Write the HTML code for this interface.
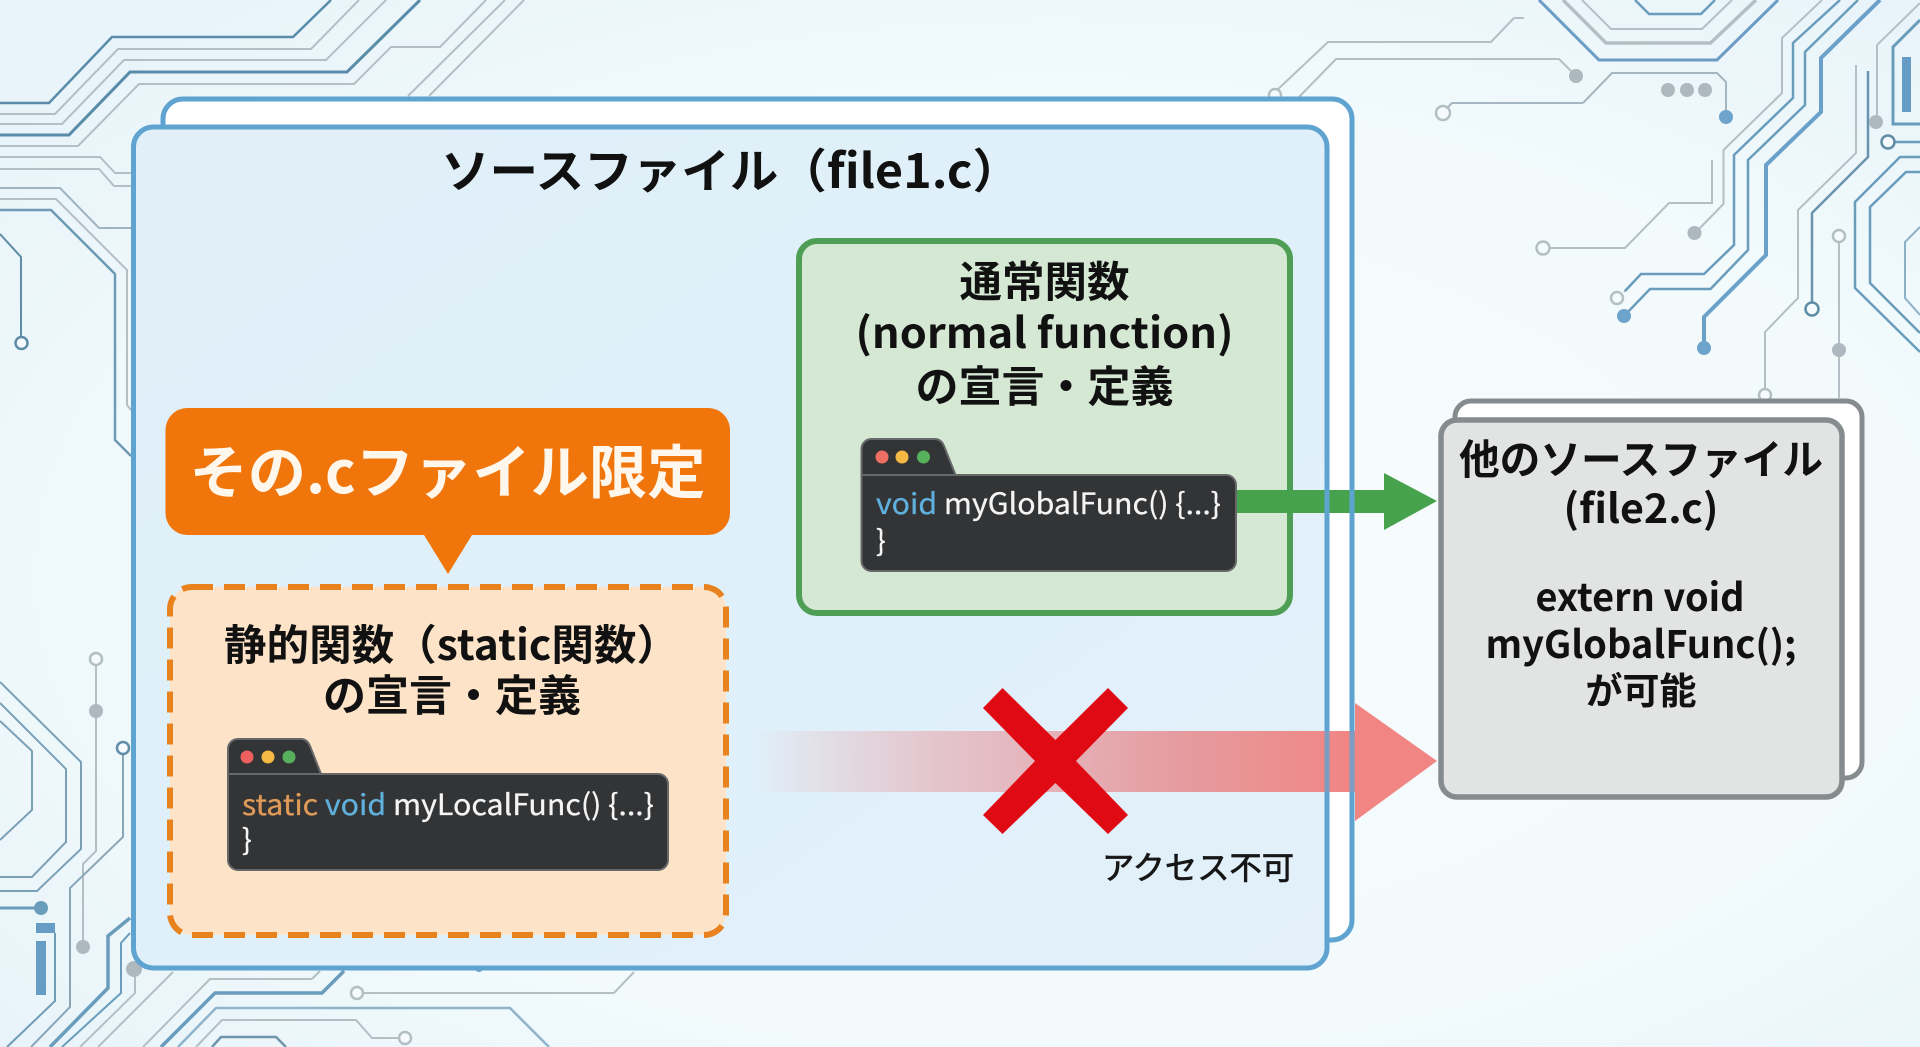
<!DOCTYPE html>
<html lang="ja"><head><meta charset="utf-8"><title>static関数</title>
<style>
html,body{margin:0;padding:0;width:1920px;height:1047px;overflow:hidden;background:#f2fafd}
svg{display:block}
text{font-family:"Noto Sans CJK JP","Liberation Sans",sans-serif}
.b{font-weight:700;fill:#111}
.c{font-size:29px;fill:#f4f4f4;stroke:#f4f4f4;stroke-width:.3px}
</style></head><body>
<svg xmlns="http://www.w3.org/2000/svg" width="1920" height="1047" viewBox="0 0 1920 1047">
<defs>
<radialGradient id="bg" cx="55%" cy="55%" r="75%"><stop offset="0" stop-color="#f9fdfe"/><stop offset=".6" stop-color="#f2fafc"/><stop offset="1" stop-color="#e6f3f9"/></radialGradient>
<linearGradient id="red" x1="755" x2="1355" y1="0" y2="0" gradientUnits="userSpaceOnUse"><stop offset="0" stop-color="#e8a0a4" stop-opacity="0"/><stop offset=".3" stop-color="#e6a8ae" stop-opacity=".6"/><stop offset=".7" stop-color="#e59ca0"/><stop offset="1" stop-color="#f08583"/></linearGradient>
<linearGradient id="fr" x1="0" y1="0" x2="1" y2="1"><stop offset="0" stop-color="#e1eff8"/><stop offset=".5" stop-color="#dff0fa"/><stop offset="1" stop-color="#e3f0f9"/></linearGradient>
</defs>
<rect width="1920" height="1047" fill="url(#bg)"/>
<!-- grey traces -->
<g fill="none" stroke="#b3bfc5" stroke-width="2">
<path d="M0 114H55L118 49H311L359 0"/><path d="M0 124H62L124 60H326L386 0"/>
<path d="M0 146H78L139 84H354L391 47H440L486 0"/><path d="M408 96L505 0M429 96L524 0"/>
<path d="M0 157H100L115 173H131M0 169H99L114 186H131"/>
<path d="M0 199H56L127 270V405L131 410"/>
<path d="M96 665V851L83 864V947"/><path d="M135 975V993L80 1047"/><path d="M173 972L98 1047"/>
<path d="M312 979H210L143 1047M312 979L320 971"/>
<path d="M363 993H614L634 972"/>
<path d="M196 1047L222 1020H356L372 1038H400"/>
<path d="M1514 18H1524M1514 18L1491 42H1328L1275 92"/>
<path d="M1576 76L1559 59H1336L1299 97"/>
<path d="M1583 103H1452L1447 108M1583 103L1612 73H1717L1726 82V110" stroke="#a5b6c0"/>
<path d="M1582 0L1611 29H1702L1732 0"/>
<path d="M1822 0L1782 38V93L1723.5 150V204L1698 230"/>
<path d="M1712 160V203H1669L1625 248H1549"/>
<path d="M1856 65V153L1798 210V298L1765 332V390"/>
<path d="M1839 242V398"/>
<path d="M1920 3L1877 45V117"/>
<path d="M1563 0L1606 43H1710.5L1756 0" stroke-width="3.5"/>
<path d="M1624 292L1641 274"/>
</g>
<!-- blue traces -->
<g fill="none" stroke="#6a9dbc" stroke-width="2.5">
<path d="M0 103H49L112 37H293L331 0" stroke="#5a8caa"/>
<path d="M0 135H69L130 72H347L420 0" stroke="#5a8caa" stroke-width="3"/>
<path d="M0 188H60L99 228H131" stroke="#9fb4c0" stroke-width="2"/>
<path d="M0 210H51L115 274V440L131 456" stroke="#6e9ab5"/>
<path d="M0 234L21 257V337" stroke="#5f8ca6" stroke-width="2"/>
<path d="M0 682L81 762V849L37 891H0M0 703L66 769V842L32 877H0" stroke="#7ba0b6" stroke-width="2"/>
<path d="M0 721L32 751V810L0 840" stroke="#7ba0b6" stroke-width="2"/>
<path d="M123 754V837L70 888V1007L31 1047" stroke="#8aa6b6" stroke-width="2"/>
<path d="M0 908H38" stroke="#6a9dbc" stroke-width="3"/>
<path d="M55 933V1001L7 1047" stroke="#6f9cb6" stroke-width="2"/>
<path d="M130 918L108 936V988L50 1047" stroke-width="3.5"/>
<path d="M130 933L121 943V993L62 1047" stroke-width="2"/>
<path d="M344 971L322 993H215L161 1047" stroke-width="3.5"/>
<path d="M178 1047L216 1008H510L549 1047" stroke="#8fb4cb"/>
<path d="M212 1047L221 1037H276L286 1047" stroke="#6f95ac"/>
<path d="M1539 0L1599 60H1717L1778 0" stroke="#6c9cc4" stroke-width="3"/>
<path d="M1635 0L1649 14H1701L1715 0"/>
<path d="M1840 0L1793 43V98L1734 155V245L1704 274H1641L1625 291"/>
<path d="M1858 0L1805 52V105L1748 160V250L1710.5 289H1650L1624 316"/>
<path d="M1880 0L1821 58V112L1766 165V255L1704 317V347" stroke="#6ba1c9" stroke-width="4"/>
<path d="M1868 71V157L1812 213V303" stroke="#6a93ae"/>
<path d="M1920 20L1893 47V124H1920" stroke-width="3"/>
<path d="M1894 142H1920"/>
<path d="M1920 157H1900L1855 202V288L1920 352M1920 172H1906L1870 207V283L1920 333"/>
<path d="M1920 227L1905 242V298L1920 315" stroke="#8cb0c6" stroke-width="2"/>
</g>
<!-- rects on traces -->
<rect x="1902" y="57" width="9" height="55" fill="#659dc6"/>
<rect x="36" y="923" width="19" height="10" fill="#659dc6"/>
<rect x="36" y="941" width="10" height="54" fill="#659dc6"/>
<!-- dots -->
<g fill="#aeb8bf">
<circle cx="1576" cy="76" r="7"/><circle cx="1668" cy="90" r="7"/><circle cx="1687" cy="90" r="7"/><circle cx="1705" cy="90" r="7"/>
<circle cx="1694.5" cy="233" r="7"/><circle cx="1839" cy="350" r="7"/><circle cx="1876" cy="122" r="7"/>
<circle cx="96" cy="711" r="7"/><circle cx="83" cy="947" r="7"/><circle cx="134" cy="969" r="8"/>
</g>
<g fill="#6ea3cb"><circle cx="1726" cy="117" r="7"/><circle cx="1624" cy="316" r="7"/><circle cx="1704" cy="348" r="7"/><circle cx="41" cy="908" r="7" fill="#6a9dbc"/><circle cx="479" cy="968" r="4"/></g>
<!-- rings -->
<g fill="#f4fafd" stroke="#b3bfc5" stroke-width="2.5">
<circle cx="1275" cy="95" r="6"/><circle cx="1443" cy="113" r="7"/><circle cx="1543" cy="248" r="6.5"/><circle cx="1617" cy="298" r="6"/>
<circle cx="1839" cy="236" r="6"/><circle cx="1765" cy="395" r="6"/>
<circle cx="96" cy="659" r="6"/><circle cx="357" cy="993" r="6"/><circle cx="405" cy="1038" r="6"/>
</g>
<g fill="#f4fafd" stroke="#5f8ca6" stroke-width="2.5">
<circle cx="21.5" cy="343" r="6"/><circle cx="123" cy="748" r="6"/><circle cx="1812" cy="309" r="6.5"/><circle cx="1888" cy="142" r="6.5"/>
</g>
<!-- main file boxes -->
<rect x="163" y="99" width="1189" height="841" rx="20" fill="#fff" stroke="#5fa3d1" stroke-width="5"/>
<rect x="133.500" y="127" width="1193.500" height="841" rx="20" fill="url(#fr)" stroke="#5fa3d1" stroke-width="5"/>
<!-- right boxes -->
<rect x="1455" y="401" width="407" height="377" rx="16" fill="#fff" stroke="#868b8d" stroke-width="5"/>
<rect x="1441" y="420" width="401" height="377" rx="16" fill="#e2e3e3" stroke="#868b8d" stroke-width="5.500"/>
<!-- green box -->
<rect x="799" y="241" width="491" height="372" rx="18" fill="#d5e8d3" stroke="#4f9e55" stroke-width="6"/>
<!-- green arrow -->
<path d="M1230 490H1384V473L1437 501L1384 530V513H1230Z" fill="#46a24d"/>
<!-- red arrow -->
<rect x="755" y="731" width="600" height="61" fill="url(#red)"/>
<path d="M1355 703L1437 761L1355 821Z" fill="#f08583"/>
<!-- blue lines over arrows -->
<path d="M1327 480V521M1352 480V521" stroke="#5fa3d1" stroke-width="5"/>
<path d="M1327 725V800M1352 725V800" stroke="#5fa3d1" stroke-width="5" opacity=".8"/>
<!-- X -->
<path d="M1002.5 688L1055.400 740L1108 688L1128 708L1076 761L1128 815L1108 834L1055.400 783L1002.500 834L983 815L1035 761L983 708Z" fill="#e00a14"/>
<!-- callout -->
<path d="M187.500 408H708a22 22 0 0 1 22 22V513a22 22 0 0 1-22 22H472L448 574L424 535H187.500a22 22 0 0 1-22-22V430a22 22 0 0 1 22-22Z" fill="#f0760c"/>
<!-- static box -->
<rect x="170" y="587" width="556" height="348" rx="22" fill="#fde3c8" stroke="#e8821f" stroke-width="6" stroke-dasharray="21 11"/>
<!-- code windows -->
<g id="w1">
<path d="M861.500 449a10 10 0 0 1 10-10H935q6 0 9 7L955.600 475H1226a10 10 0 0 1 10 10V561a10 10 0 0 1-10 10H871.500a10 10 0 0 1-10-10Z" fill="#333436" stroke="#66686a" stroke-width="2"/>
<path d="M861.500 475H955.600" stroke="#66686a" stroke-width="2"/>
<circle cx="882" cy="457" r="6.500" fill="#ee6f63"/><circle cx="902" cy="457" r="6.500" fill="#f4b942"/><circle cx="923.500" cy="457" r="6.500" fill="#57b05b"/>
</g>
<g id="w2">
<path d="M228 749a10 10 0 0 1 10-10H301q6 0 9 7L321 774H658a10 10 0 0 1 10 10V860a10 10 0 0 1-10 10H238a10 10 0 0 1-10-10Z" fill="#333436" stroke="#66686a" stroke-width="2"/>
<path d="M228 774H321" stroke="#66686a" stroke-width="2"/>
<circle cx="247" cy="757" r="6.500" fill="#ee5f5f"/><circle cx="268" cy="757" r="6.500" fill="#f4b942"/><circle cx="289" cy="757" r="6.500" fill="#57b05b"/>
</g>
<!-- text -->
<text class="b" x="441" y="188" font-size="47" textLength="580" lengthAdjust="spacingAndGlyphs">ソースファイル（file1.c）</text>
<text class="b" x="1044.500" y="297" font-size="42.500" text-anchor="middle">通常関数</text>
<text class="b" x="1044.500" y="348" font-size="42" text-anchor="middle" textLength="378" lengthAdjust="spacingAndGlyphs">(normal function)</text>
<text class="b" x="1044.500" y="402" font-size="43" text-anchor="middle">の宣言・定義</text>
<text x="447.500" y="493" font-size="58" font-weight="700" fill="#fff7ec" text-anchor="middle" textLength="516" lengthAdjust="spacingAndGlyphs">その.cファイル限定</text>
<text class="b" x="224" y="660" font-size="42" textLength="455" lengthAdjust="spacingAndGlyphs">静的関数（static関数）</text>
<text class="b" x="452" y="711" font-size="43" text-anchor="middle">の宣言・定義</text>
<text class="c" x="876" y="514" textLength="345" lengthAdjust="spacingAndGlyphs"><tspan fill="#5fb0dc" stroke="#5fb0dc">void</tspan> myGlobalFunc() {...}</text>
<text class="c" x="876" y="551">}</text>
<text class="c" x="242" y="815" textLength="412" lengthAdjust="spacingAndGlyphs"><tspan fill="#e09a58" stroke="#e09a58">static</tspan> <tspan fill="#5fb0dc" stroke="#5fb0dc">void</tspan> myLocalFunc() {...}</text>
<text class="c" x="242" y="850">}</text>
<text x="1198" y="879" font-size="32" font-weight="400" fill="#161616" stroke="#161616" stroke-width=".7" text-anchor="middle" textLength="192" lengthAdjust="spacingAndGlyphs">アクセス不可</text>
<text class="b" x="1641" y="474" font-size="41" text-anchor="middle" textLength="364" lengthAdjust="spacingAndGlyphs">他のソースファイル</text>
<text class="b" x="1641" y="523" font-size="40" text-anchor="middle" textLength="155" lengthAdjust="spacingAndGlyphs">(file2.c)</text>
<text class="b" x="1640" y="611" font-size="38" text-anchor="middle" textLength="209" lengthAdjust="spacingAndGlyphs">extern void</text>
<text class="b" x="1641" y="658" font-size="38" text-anchor="middle" textLength="311" lengthAdjust="spacingAndGlyphs">myGlobalFunc();</text>
<text class="b" x="1641" y="704" font-size="37" text-anchor="middle">が可能</text>
</svg>
</body></html>
